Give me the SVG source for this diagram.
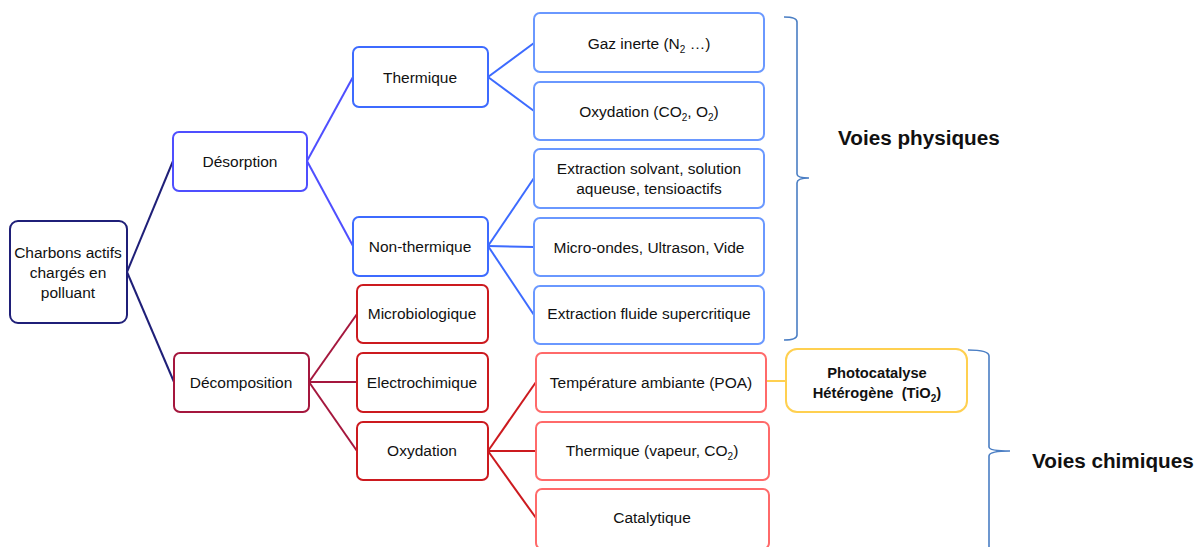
<svg xmlns="http://www.w3.org/2000/svg" width="1204" height="547" viewBox="0 0 1204 547">
<style>
rect{fill:#fff;stroke-width:2}
text{font-family:"Liberation Sans",Arial,sans-serif;font-size:15.5px;fill:#111;text-anchor:middle;dominant-baseline:central}
.sub{font-size:10px}
.root{stroke:#1f1f78}
.l1b{stroke:#4f4fff}
.l2b{stroke:#3d6bff}
.l3b{stroke:#6a98ff}
.l1r{stroke:#a5173d}
.l2r{stroke:#cc1a1f}
.l3r{stroke:#ff6a6a}
.ly{stroke:#ffd050}
.big{font-size:20.7px;font-weight:bold;text-anchor:start}
.bold{font-weight:bold;font-size:14.7px;white-space:pre}
#connectors line{stroke-width:2}
.brace{fill:none;stroke:#4a7ec4;stroke-width:1.6}
</style>
<g id="connectors">
<line x1="127" y1="272" x2="173" y2="161" stroke="#1f1f78"/>
<line x1="127" y1="272" x2="174" y2="382" stroke="#1f1f78"/>
<line x1="307" y1="161" x2="353" y2="77" stroke="#4f4fff"/>
<line x1="307" y1="161" x2="353" y2="246" stroke="#4f4fff"/>
<line x1="488" y1="77" x2="534" y2="43" stroke="#3d6bff"/>
<line x1="488" y1="77" x2="534" y2="111" stroke="#3d6bff"/>
<line x1="488" y1="246" x2="534" y2="178" stroke="#3d6bff"/>
<line x1="488" y1="246" x2="534" y2="247" stroke="#3d6bff"/>
<line x1="488" y1="246" x2="534" y2="315" stroke="#3d6bff"/>
<line x1="309" y1="382" x2="357" y2="314" stroke="#a5173d"/>
<line x1="309" y1="382" x2="357" y2="382" stroke="#a5173d"/>
<line x1="309" y1="382" x2="357" y2="451" stroke="#a5173d"/>
<line x1="488" y1="451" x2="536" y2="382" stroke="#cc1a1f"/>
<line x1="488" y1="451" x2="536" y2="451" stroke="#cc1a1f"/>
<line x1="488" y1="451" x2="536" y2="518" stroke="#cc1a1f"/>
<line x1="766" y1="381" x2="786" y2="381" stroke="#ffd050"/>
</g>
<g id="root"><rect class="root" x="10" y="221" width="117" height="102" rx="8"/>
<text x="68" y="252">Charbons actifs</text><text x="68" y="272">chargés en</text><text x="68" y="292">polluant</text></g>
<g id="desorption"><rect class="l1b" x="173" y="132" width="134" height="59" rx="6"/><text x="240" y="161">Désorption</text></g>
<g id="decomposition"><rect class="l1r" x="174" y="353" width="135" height="59" rx="6"/><text x="241" y="382">Décomposition</text></g>
<g id="thermique"><rect class="l2b" x="353" y="47" width="135" height="60" rx="6"/><text x="420" y="77">Thermique</text></g>
<g id="nonthermique"><rect class="l2b" x="353" y="217" width="135" height="59" rx="6"/><text x="420" y="246">Non-thermique</text></g>
<g id="gaz"><rect class="l3b" x="534" y="13" width="230" height="59" rx="6"/><text x="649" y="43">Gaz inerte (N<tspan class="sub" dy="5.5">2</tspan><tspan dy="-5.5"> …)</tspan></text></g>
<g id="oxyd1"><rect class="l3b" x="534" y="82" width="230" height="58" rx="6"/><text x="649" y="111">Oxydation (CO<tspan class="sub" dy="5.5">2</tspan><tspan dy="-5.5">, O</tspan><tspan class="sub" dy="5.5">2</tspan><tspan dy="-5.5">)</tspan></text></g>
<g id="extsolv"><rect class="l3b" x="534" y="149" width="230" height="59" rx="6"/><text x="649" y="168">Extraction solvant, solution</text><text x="649" y="188">aqueuse, tensioactifs</text></g>
<g id="micro"><rect class="l3b" x="534" y="218" width="230" height="58" rx="6"/><text x="649" y="247">Micro-ondes, Ultrason, Vide</text></g>
<g id="fluide"><rect class="l3b" x="534" y="286" width="230" height="58" rx="6"/><text x="649" y="313">Extraction fluide supercritique</text></g>
<g id="microbio"><rect class="l2r" x="357" y="285" width="131" height="58" rx="6"/><text x="422" y="313">Microbiologique</text></g>
<g id="electro"><rect class="l2r" x="357" y="353" width="131" height="59" rx="6"/><text x="422" y="382">Electrochimique</text></g>
<g id="oxyd2"><rect class="l2r" x="357" y="422" width="131" height="58" rx="6"/><text x="422" y="450">Oxydation</text></g>
<g id="tempamb"><rect class="l3r" x="536" y="353" width="230" height="59" rx="6"/><text x="651" y="382">Température ambiante (POA)</text></g>
<g id="thermvap"><rect class="l3r" x="536" y="422" width="233" height="58" rx="6"/><text x="652" y="450">Thermique (vapeur, CO<tspan class="sub" dy="5.5">2</tspan><tspan dy="-5.5">)</tspan></text></g>
<g id="catal"><rect class="l3r" x="536" y="489" width="233" height="60" rx="6"/><text x="652" y="517">Catalytique</text></g>
<g id="photo"><rect class="ly" x="786" y="349" width="181" height="63" rx="11"/><text class="bold" x="877" y="373">Photocatalyse</text><text class="bold" x="877" y="393">Hétérogène  (TiO<tspan class="sub" dy="5">2</tspan><tspan dy="-5">)</tspan></text></g>
<g id="brace1"><path class="brace" d="M784 17 Q797 17 797 22 L797 174 Q797 178 809 178 Q797 178 797 183 L797 335 Q797 340 784 340"/><text class="big" x="838" y="137">Voies physiques</text></g>
<g id="brace2"><path class="brace" d="M968 350 Q989 350 989 356 L989 447 Q989 451 1010 451 Q989 451 989 456 L989 560"/><text class="big" x="1032" y="460">Voies chimiques</text></g>
</svg>
